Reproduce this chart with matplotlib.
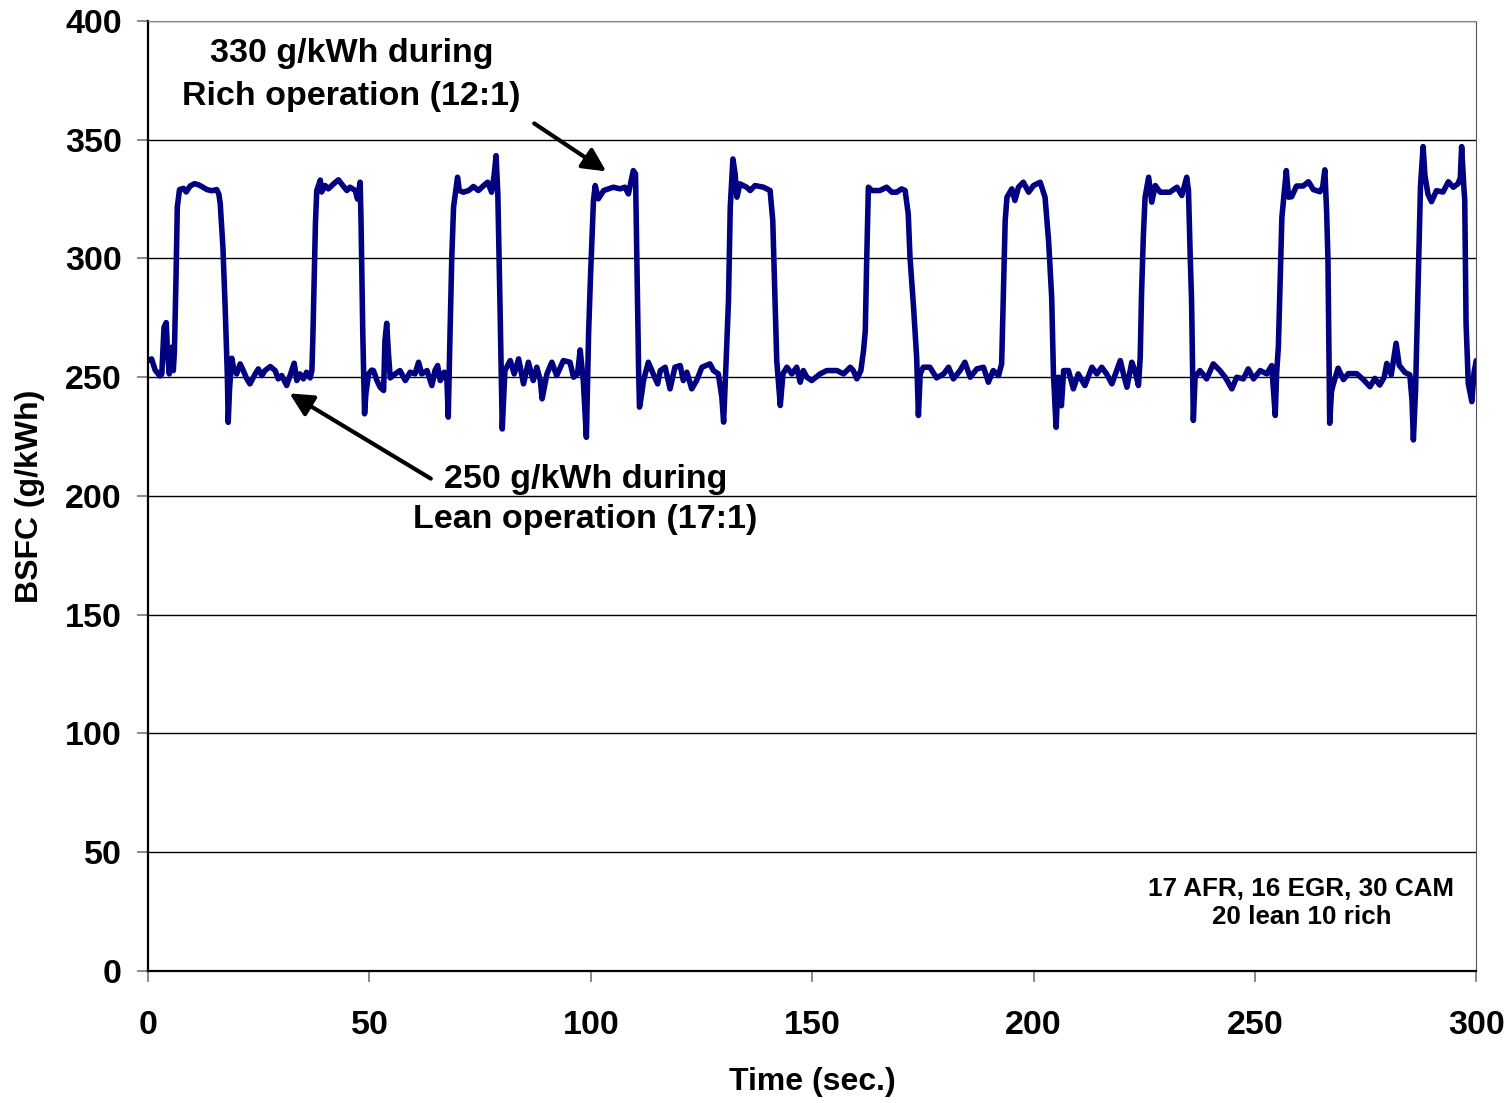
import numpy as np
import matplotlib.pyplot as plt

# BSFC trace (time in s, BSFC in g/kWh)
time_s = [
    0.0, 0.8, 1.6, 2.7, 3.1, 3.6, 4.1, 4.4, 4.8, 5.3, 5.7, 5.95, 6.3, 6.6, 7.1,
    8.0, 8.6, 9.5, 10.5, 11.4, 12.4, 13.3, 14.4, 15.5, 16.0, 16.3, 16.9, 17.4, 17.9,
    18.1, 18.4, 18.9, 19.3, 20.0, 20.8, 21.5, 22.3, 23.0, 24.2, 24.9, 25.7, 26.4,
    27.6, 28.7, 29.4, 30.2, 31.3, 32.2, 33.0, 33.6, 34.3, 35.1, 35.8, 36.6, 37.0,
    37.2, 37.5, 37.8, 38.1, 38.9, 39.2, 40.0, 40.7, 41.9, 43.0, 43.7, 44.9, 45.6,
    46.8, 47.3, 47.9, 48.1, 48.5, 48.9, 49.2, 49.8, 50.5, 50.9, 51.7, 52.4, 53.2,
    53.5, 53.9, 54.3, 54.7, 55.8, 56.9, 58.1, 59.2, 60.3, 61.1, 61.8, 63.0, 64.1,
    64.8, 65.4, 66.0, 66.9, 67.5, 67.8, 68.2, 68.6, 69.0, 69.9, 70.3, 71.2, 72.4,
    73.5, 74.6, 75.8, 76.7, 77.6, 78.2, 78.6, 79.0, 79.5, 80.0, 80.6, 81.8, 82.7,
    83.7, 84.8, 85.9, 87.0, 87.8, 88.6, 89.0, 90.1, 91.2, 92.3, 93.8, 95.3, 96.1,
    97.0, 97.6, 98.3, 99.0, 99.5, 99.9, 100.6, 101.0, 101.7, 102.9, 104.0, 105.1,
    106.6, 107.7, 108.5, 109.3, 109.6, 110.1, 110.4, 110.8, 111.0, 111.5, 111.9,
    113.0, 114.1, 115.1, 115.7, 116.8, 117.9, 119.0, 120.2, 120.9, 121.7, 122.8,
    123.9, 125.1, 126.9, 127.7, 128.8, 129.6, 130.0, 130.6, 131.1, 131.5, 132.1,
    132.6, 133.0, 133.7, 135.2, 136.0, 137.1, 139.0, 140.5, 141.1, 141.6, 142.0,
    142.8, 143.4, 144.3, 145.4, 146.5, 147.3, 148.0, 148.8, 149.9, 151.8, 153.3,
    154.8, 155.6, 157.1, 158.6, 159.3, 160.1, 161.0, 161.6, 162.0, 162.3, 162.7,
    163.5, 165.3, 166.8, 168.0, 169.1, 170.2, 171.0, 171.7, 172.1, 172.9, 173.6,
    174.0, 174.4, 175.1, 176.6, 178.1, 179.7, 180.8, 181.9, 183.4, 184.5, 185.7,
    187.2, 188.7, 189.8, 190.9, 192.1, 192.8, 193.2, 193.6, 194.0, 195.1, 195.8,
    196.6, 197.7, 198.9, 200.0, 201.5, 202.6, 203.4, 204.1, 204.5, 205.1, 205.6,
    206.3, 206.8, 207.9, 209.0, 210.1, 211.6, 213.2, 214.3, 215.4, 216.5, 217.7,
    219.6, 220.3, 221.1, 222.2, 222.9, 223.7, 224.1, 224.4, 224.8, 225.2, 226.0,
    226.7, 227.5, 228.6, 230.8, 232.4, 233.5, 234.6, 235.0, 235.4, 235.7, 236.1,
    236.5, 237.6, 239.1, 240.6, 242.1, 243.3, 244.8, 245.9, 247.4, 248.5, 249.7,
    251.2, 252.7, 253.8, 254.6, 254.9, 255.3, 255.7, 256.1, 257.1, 257.6, 258.3,
    259.4, 260.9, 262.1, 263.2, 264.7, 265.3, 265.8, 266.2, 266.5, 266.9, 267.3,
    267.7, 268.8, 270.0, 271.1, 273.0, 274.5, 276.0, 277.1, 278.2, 279.2, 279.8,
    280.8, 281.9, 282.6, 283.9, 285.0, 285.5, 285.8, 286.3, 286.9, 287.4, 288.0,
    288.4, 289.1, 289.9, 291.0, 292.5, 293.7, 294.8, 295.9, 296.4, 296.7, 297.2,
    297.4, 297.7, 298.2, 299.0, 299.5, 300.0,
]
bsfc = [
    257.0, 257.7, 253.0, 250.5, 251.4, 271.0, 273.0, 259.8, 251.4, 262.6, 252.8, 261.0, 291.0, 321.6, 329.0,
    329.5, 328.0, 330.5, 331.5, 331.0, 330.0, 329.0, 328.5, 329.0, 327.0, 323.0, 305.0, 280.0, 251.0,
    231.0, 245.0, 258.0, 254.0, 251.4, 255.6, 252.8, 249.3, 247.2, 251.4, 253.5, 250.7, 252.8,
    254.5, 252.8, 249.3, 250.7, 246.5, 251.4, 255.9, 248.6, 251.4, 249.3, 252.1, 249.7, 252.8,
    265.0, 290.7, 314.6, 328.6, 333.0, 328.0, 330.7, 329.3, 331.4, 333.1, 331.4, 328.6, 330.0,
    328.6, 325.0, 332.1, 316.0, 268.2, 234.6, 243.0, 251.4, 253.0, 252.8, 248.6, 245.8, 244.4,
    265.4, 272.7, 259.8, 249.7, 251.4, 252.8, 248.6, 252.1, 251.4, 256.3, 251.4, 252.8, 246.5,
    252.8, 254.9, 248.6, 252.1, 248.6, 233.2, 268.2, 300.5, 321.6, 334.2, 328.6, 327.9, 328.6,
    330.3, 328.6, 330.7, 332.1, 327.9, 335.6, 343.3, 327.2, 279.5, 228.2, 252.8, 257.0, 251.4,
    257.7, 247.2, 256.3, 248.6, 254.2, 248.6, 240.9, 251.4, 256.3, 250.7, 257.0, 256.3, 250.0,
    251.4, 261.5, 248.6, 224.7, 268.2, 290.7, 324.4, 330.7, 325.1, 328.6, 329.3, 330.0,
    329.3, 330.0, 327.2, 334.2, 337.0, 335.6, 300.5, 252.8, 237.4, 243.0, 248.6,
    256.3, 251.4, 247.2, 252.8, 254.2, 245.1, 254.2, 254.9, 248.6, 252.1, 245.1,
    248.6, 254.2, 255.6, 252.8, 251.4, 241.6, 231.1, 258.4, 282.3, 321.6, 341.9,
    335.6, 325.8, 331.4, 330.0, 328.6, 330.7, 330.0, 328.6, 316.0, 282.3, 257.0,
    238.1, 251.4, 254.2, 251.4, 254.2, 247.9, 252.8, 250.0, 248.6, 251.4, 252.8,
    252.8, 252.8, 251.4, 254.2, 252.8, 249.3, 252.8, 261.2, 269.6, 297.7, 330.0,
    328.6, 328.6, 330.0, 327.9, 327.9, 329.3, 328.6, 318.8, 300.5, 279.5, 258.4,
    233.9, 251.4, 254.2, 254.2, 249.7, 251.4, 254.2, 249.3, 252.8, 256.3, 250.0,
    253.5, 254.2, 247.9, 252.8, 250.7, 255.6, 286.5, 316.0, 325.8, 329.3, 324.4,
    330.0, 332.1, 327.9, 330.7, 332.1, 325.8, 307.5, 283.7, 251.4, 228.9, 250.0,
    238.0, 252.8, 252.8, 245.1, 251.4, 246.5, 254.2, 251.4, 254.2, 251.4, 247.2,
    257.0, 251.4, 245.8, 256.3, 252.8, 246.5, 258.4, 285.1, 309.0, 325.8, 334.2,
    323.7, 330.7, 327.9, 327.9, 330.0, 326.5, 334.2, 328.6, 300.5, 282.3, 231.8,
    250.0, 252.8, 249.3, 255.6, 252.8, 250.0, 245.1, 250.0, 249.3, 253.5, 249.3,
    252.8, 251.4, 254.9, 233.9, 251.4, 262.6, 290.7, 317.4, 337.0, 325.8, 326.0,
    330.5, 330.5, 332.3, 329.0, 328.1, 330.0, 337.3, 320.0, 300.0, 230.6, 244.0,
    247.0, 253.8, 249.0, 251.5, 251.5, 249.0, 246.0, 249.5, 246.7, 250.0, 255.8,
    251.0, 264.3, 255.0, 252.0, 251.0, 240.0, 223.6, 245.0, 291.0, 330.2, 347.1,
    335.0, 327.0, 323.9, 328.5, 328.0, 332.3, 330.0, 331.5, 334.0, 347.1, 330.0,
    324.6, 272.7, 247.4, 239.7, 252.0, 257.0,
]

xticks = [0, 50, 100, 150, 200, 250, 300]
yticks = [0, 50, 100, 150, 200, 250, 300, 350, 400]

plt.rcParams['font.family'] = ['Liberation Sans', 'DejaVu Sans']
plt.rcParams['font.weight'] = 'bold'

fig = plt.figure(figsize=(15.11, 11.03), dpi=100)
ax = fig.add_axes([0.098, 0.1197, 0.879, 0.8613])

ax.plot(time_s, bsfc, color='#000080', lw=4.0, solid_joinstyle='round',
        solid_capstyle='round')

ax.set_xlim(0, 300)
ax.set_ylim(0, 400)
ax.set_xticks(xticks)
ax.set_yticks(yticks)
ax.yaxis.grid(True, color='black', lw=1.0)
ax.set_axisbelow(True)
ax.tick_params(axis='both', direction='out', length=8, width=1.2, color='#777777',
               labelsize=24.5)
ax.tick_params(axis='y', pad=11)
ax.tick_params(axis='x', pad=20)
for lbl in ax.get_xticklabels() + ax.get_yticklabels():
    lbl.set_fontweight('bold')

ax.spines['left'].set_color('black')
ax.spines['left'].set_linewidth(1.6)
ax.spines['bottom'].set_color('black')
ax.spines['bottom'].set_linewidth(1.6)
ax.spines['top'].set_color('#888888')
ax.spines['right'].set_color('#555555')

ax.set_xlabel('Time (sec.)', fontsize=23, fontweight='bold', labelpad=19)
ax.set_ylabel('BSFC (g/kWh)', fontsize=23, fontweight='bold', labelpad=14)

ax.annotate('', xy=(104.0, 336.0), xytext=(86.7, 357.5),
            arrowprops=dict(arrowstyle='-|>', color='black', lw=3, mutation_scale=35))
ax.text(46.0, 377.3, '330 g/kWh during\nRich operation (12:1)', fontsize=24.5,
        fontweight='bold', ha='center', va='center', linespacing=1.5)

ax.annotate('', xy=(31.4, 243.8), xytext=(64.4, 206.7),
            arrowprops=dict(arrowstyle='-|>', color='black', lw=3, mutation_scale=35))
ax.text(98.8, 198.6, '250 g/kWh during\nLean operation (17:1)', fontsize=24.5,
        fontweight='bold', ha='center', va='center', linespacing=1.37)

ax.text(260.5, 28.6, '17 AFR, 16 EGR, 30 CAM\n20 lean 10 rich', fontsize=18.7,
        fontweight='bold', ha='center', va='center', linespacing=1.25)

fig.savefig('out.png', dpi=100)
